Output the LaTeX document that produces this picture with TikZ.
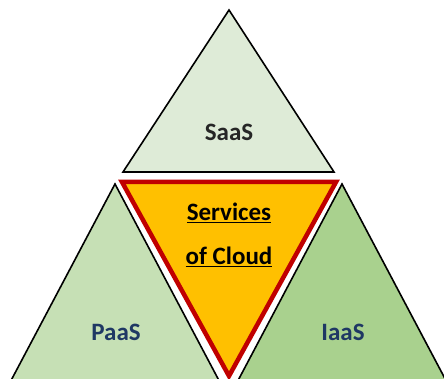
\documentclass[tikz,border=0pt]{standalone}
\usepackage{fontspec}
\setmainfont{Carlito}
\definecolor{saas}{HTML}{DEEBD7}
\definecolor{paas}{HTML}{C6E0B5}
\definecolor{iaas}{HTML}{A9D18E}
\definecolor{cloudy}{HTML}{FFC000}
\definecolor{cloudr}{HTML}{C00000}
\definecolor{navy}{HTML}{1F3864}
\definecolor{darkt}{HTML}{262626}
\tikzset{
  tri/.style={draw=black, line width=1.6pt, line join=miter},
  lbl/.style={font=\bfseries\fontsize{25}{27}\selectfont, inner sep=0pt},
}
\begin{document}
\begin{tikzpicture}[x=1pt,y=-1pt]
\useasboundingbox (0,0) rectangle (444,379);
\clip (0,0) rectangle (444,379);
% SaaS
\draw[tri, fill=saas] (229,10) -- (123,172) -- (334,172) -- cycle;
% PaaS
\draw[tri, fill=paas] (115,184) -- (6,390) -- (224,390) -- cycle;
% IaaS
\draw[tri, fill=iaas] (342,184) -- (233,390) -- (451,390) -- cycle;
% centre
\draw[draw=cloudr, line width=4.5pt, fill=cloudy, line join=miter] (122,182) -- (336,182) -- (229,376) -- cycle;
\node[lbl, text=darkt] (saas) at (229,132) {SaaS};
\node[lbl, text=navy] (paas) at (116,332) {PaaS};
\node[lbl, text=navy] (iaas) at (343,332) {IaaS};
\node[lbl, text=black] (serv) at (229,213) {\underline{Services}};
\node[lbl, text=black] (ofc) at (229,257) {\underline{of Cloud}};
\end{tikzpicture}
\end{document}
